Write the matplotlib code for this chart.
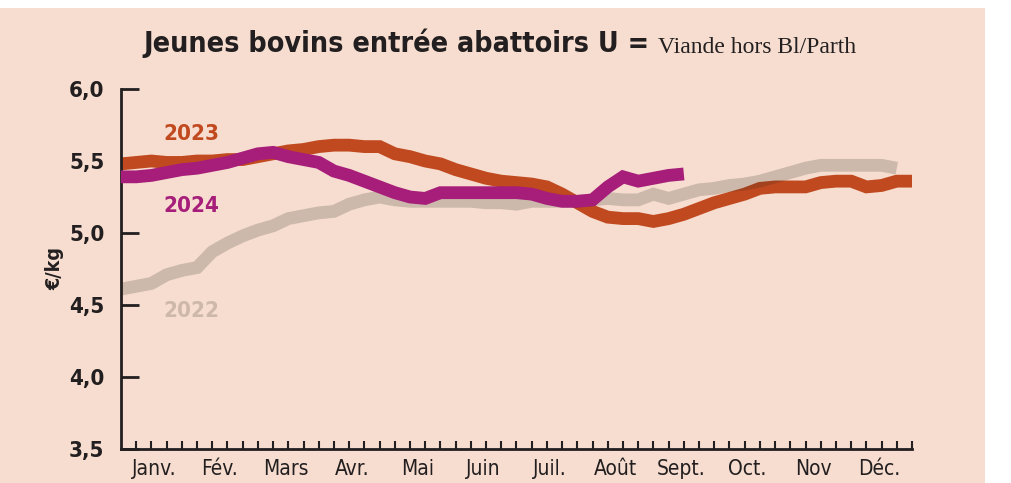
import numpy as np
import matplotlib
matplotlib.use("Agg")
import matplotlib.pyplot as plt
from matplotlib import font_manager
from matplotlib.patches import Rectangle

# weekly prices, €/kg (week 0 = start of January)
prix_2022 = [4.61, 4.63, 4.65, 4.71, 4.74, 4.76, 4.87, 4.93, 4.98, 5.02,
             5.05, 5.10, 5.12, 5.14, 5.15, 5.20, 5.23, 5.25, 5.23, 5.22,
             5.22, 5.22, 5.22, 5.22, 5.21, 5.21, 5.20, 5.22, 5.22, 5.22,
             5.22, 5.23, 5.24, 5.23, 5.23, 5.27, 5.24, 5.27, 5.30, 5.31,
             5.33, 5.34, 5.36, 5.39, 5.42, 5.45, 5.47, 5.47, 5.47, 5.47,
             5.47, 5.45]
prix_2023 = [5.48, 5.49, 5.50, 5.49, 5.49, 5.50, 5.50, 5.51, 5.51, 5.53,
             5.55, 5.57, 5.58, 5.60, 5.61, 5.61, 5.60, 5.60, 5.55, 5.53,
             5.50, 5.48, 5.44, 5.41, 5.38, 5.36, 5.35, 5.34, 5.32, 5.27,
             5.21, 5.15, 5.11, 5.10, 5.10, 5.08, 5.10, 5.13, 5.17, 5.21,
             5.24, 5.27, 5.31, 5.32, 5.32, 5.32, 5.35, 5.36, 5.36, 5.32,
             5.33, 5.36, 5.36]
prix_2024 = [5.39, 5.39, 5.40, 5.42, 5.44, 5.45, 5.47, 5.49, 5.52, 5.55,
             5.56, 5.53, 5.51, 5.49, 5.43, 5.40, 5.36, 5.32, 5.28, 5.25,
             5.24, 5.28, 5.28, 5.28, 5.28, 5.28, 5.28, 5.27, 5.24, 5.22,
             5.22, 5.23, 5.32, 5.39, 5.36, 5.38, 5.40, 5.41]

mois = ["Janv.", "Fév.", "Mars", "Avr.", "Mai", "Juin", "Juil.", "Août",
        "Sept.", "Oct.", "Nov", "Déc."]
y_ticks = [3.5, 4.0, 4.5, 5.0, 5.5, 6.0]

BG = "#F6DDCF"
INK = "#231F20"
ORANGE = "#C1491F"
MAGENTA = "#A61D7A"
GRIS = "#CDB8AA"

# narrow sans if the system has one, else plain DejaVu squeezed with stretch
names = {f.name for f in font_manager.fontManager.ttflist}
if "Liberation Sans Narrow" in names:
    FONT = ["Liberation Sans Narrow", "DejaVu Sans"]
else:
    FONT = ["DejaVu Sans"]
STRETCH = "condensed"

fig = plt.figure(figsize=(10.12, 4.83), dpi=100)
fig.patch.set_facecolor("white")
fig.patches.append(Rectangle((0, 0), 985 / 1012, 1 - 8 / 483, transform=fig.transFigure,
                             facecolor=BG, edgecolor="none", zorder=-10))

ax = fig.add_axes([121 / 1012, 1 - 449 / 483, 791 / 1012, 360 / 483])
ax.set_facecolor("none")

lw = 9.2
ax.plot(np.arange(len(prix_2023)), prix_2023, color=ORANGE, lw=lw,
        solid_capstyle="butt", solid_joinstyle="miter", zorder=2)
# 2022 drawn translucent on top (darkens where it crosses 2023)
ax.plot(np.arange(len(prix_2022)), prix_2022, color="#29291C", alpha=0.2, lw=lw,
        solid_capstyle="butt", solid_joinstyle="miter", zorder=3)
ax.plot(np.arange(len(prix_2024)), prix_2024, color=MAGENTA, lw=lw,
        solid_capstyle="butt", solid_joinstyle="miter", zorder=4)

ax.set_xlim(0, 52)
ax.set_ylim(3.5, 6.0)

for s in ["top", "right"]:
    ax.spines[s].set_visible(False)
for s in ["left", "bottom"]:
    ax.spines[s].set_color(INK)
    ax.spines[s].set_linewidth(2.0)

ax.set_yticks(y_ticks)
ax.set_yticklabels([f"{v:.1f}".replace(".", ",") for v in y_ticks],
                   fontfamily=FONT, fontstretch=STRETCH, fontsize=16,
                   fontweight="bold", color=INK)
ax.tick_params(axis="y", direction="in", length=13, width=2.0, color=INK, pad=12)

ax.set_xticks(np.arange(1, 53))
ax.set_xticklabels([])
ax.tick_params(axis="x", direction="in", length=6, width=1.5, color=INK)
ax.set_xticks([(m + 0.5) * 52 / 12 for m in range(12)], minor=True)
ax.set_xticklabels(mois, minor=True, fontfamily=FONT, fontstretch=STRETCH,
                   fontsize=15, color=INK)
ax.tick_params(axis="x", which="minor", length=0, pad=7)

ax.set_ylabel("€/kg", fontfamily=FONT, fontstretch=STRETCH, fontsize=14,
              fontweight="bold", color=INK, labelpad=3)

# series labels
for txt, yv, col in [("2023", 5.69, ORANGE), ("2024", 5.19, MAGENTA), ("2022", 4.46, GRIS)]:
    ax.text(2.8, yv, txt, color=col, fontfamily=FONT, fontstretch=STRETCH,
            fontsize=16, fontweight="bold", va="center")

t1 = fig.text(143 / 1012, 1 - 52 / 483, "Jeunes bovins entrée abattoirs U = ",
              fontfamily=FONT, fontstretch=STRETCH, fontsize=20.5, fontweight="bold",
              color=INK, ha="left", va="baseline")
ax.annotate("Viande hors Bl/Parth", xy=(1, 0), xycoords=t1, va="bottom", ha="left",
            fontfamily=["Liberation Serif", "DejaVu Serif"], fontsize=17, color=INK,
            annotation_clip=False)

fig.savefig("out.png", dpi=100, facecolor=fig.get_facecolor())
